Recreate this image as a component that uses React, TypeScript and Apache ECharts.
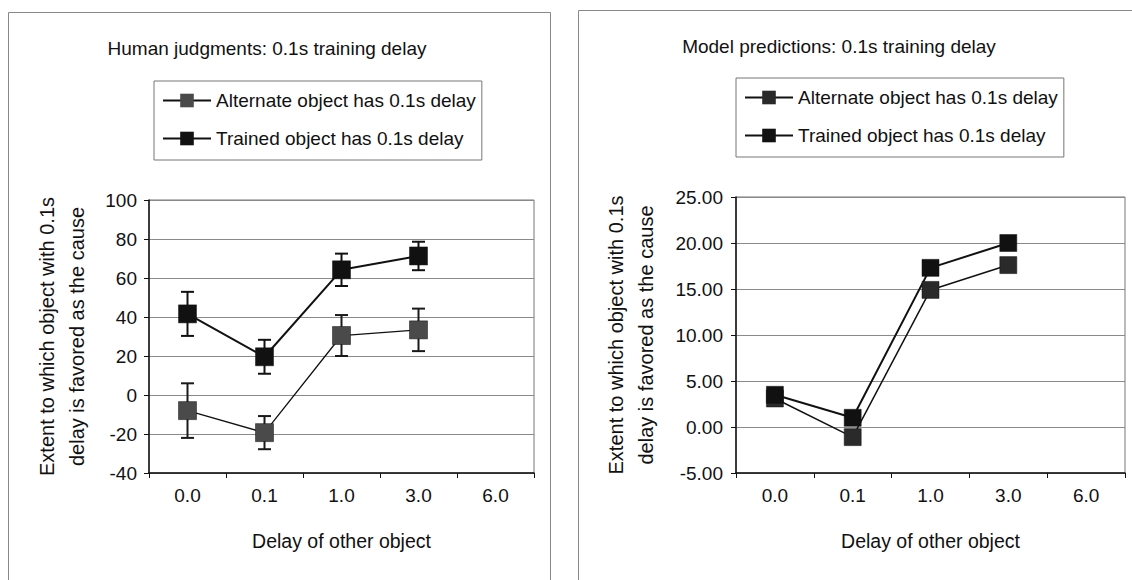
import React, { useEffect, useRef } from "react";
import * as echarts from "echarts";

// Delay of the other object (x categories)
const categories = ["0.0", "0.1", "1.0", "3.0", "6.0"];

// Human judgments: means and error half-widths
const humanAlternate = [-8, -19.3, 30.5, 33.4, null];
const humanAlternateErr = [14, 8.5, 10.5, 10.9, null];
const humanTrained = [41.6, 19.6, 64.2, 71.3, null];
const humanTrainedErr = [11.3, 8.7, 8.3, 7.3, null];

// Model predictions
const modelAlternate = [3.1, -1.1, 14.9, 17.6, null];
const modelTrained = [3.5, 1.0, 17.3, 20.0, null];

const humanTicks = { min: -40, max: 100, interval: 20 };
const modelTicks = { min: -5, max: 25, interval: 5 };

const ALT_NAME = "Alternate object has 0.1s delay";
const TRAINED_NAME = "Trained object has 0.1s delay";
const Y_NAME = "Extent to which object with 0.1s\ndelay is favored as the cause";
const X_NAME = "Delay of other object";
const FONT = 'Arial, "Liberation Sans", Helvetica, sans-serif';

const ALT_COLOR = "#4a4a4a";
const TRAINED_COLOR = "#111111";

function errorData(means: (number | null)[], errs: (number | null)[]) {
  const out: number[][] = [];
  means.forEach((m, i) => {
    const e = errs[i];
    if (m != null && e != null) out.push([i, m - e, m + e]);
  });
  return out;
}

function errorSeries(name: string, data: number[][], color: string) {
  return {
    type: "custom",
    name: name + " error",
    xAxisIndex: 0,
    yAxisIndex: 0,
    z: 2,
    silent: true,
    encode: { x: 0, y: [1, 2] },
    data,
    renderItem: (_params: any, api: any) => {
      const x = api.value(0);
      const lo = api.coord([x, api.value(1)]);
      const hi = api.coord([x, api.value(2)]);
      const cap = 6.5;
      const style = { stroke: color, lineWidth: 2 };
      return {
        type: "group",
        children: [
          { type: "line", shape: { x1: lo[0], y1: lo[1], x2: hi[0], y2: hi[1] }, style },
          { type: "line", shape: { x1: lo[0] - cap, y1: lo[1], x2: lo[0] + cap, y2: lo[1] }, style },
          { type: "line", shape: { x1: hi[0] - cap, y1: hi[1], x2: hi[0] + cap, y2: hi[1] }, style },
        ],
      };
    },
  };
}

function lineSeries(
  name: string,
  data: (number | null)[],
  idx: number,
  color: string,
  width: number,
  size: number
) {
  return {
    type: "line",
    name,
    xAxisIndex: idx,
    yAxisIndex: idx,
    data,
    z: 3,
    symbol: "rect",
    symbolSize: size,
    showSymbol: true,
    lineStyle: { color: "#111", width },
    itemStyle: { color, borderColor: "#111", borderWidth: 0.5 },
    emphasis: { disabled: true },
  };
}

function xAxis(gridIndex: number) {
  return {
    type: "category",
    gridIndex,
    data: categories,
    boundaryGap: true,
    axisLine: { onZero: false, lineStyle: { color: "#111", width: 1.5 } },
    axisTick: { show: true, length: 5, inside: false, lineStyle: { color: "#111" } },
    axisLabel: { color: "#111", fontSize: 19, fontFamily: FONT, margin: 13 },
    name: X_NAME,
    nameLocation: "middle",
    nameGap: 58,
    nameTextStyle: { color: "#111", fontSize: 19.5, fontFamily: FONT },
    splitLine: { show: false },
  };
}

function yAxis(
  gridIndex: number,
  ticks: { min: number; max: number; interval: number },
  digits: number,
  nameGap: number,
  labelMargin: number
) {
  return {
    type: "value",
    gridIndex,
    min: ticks.min,
    max: ticks.max,
    interval: ticks.interval,
    axisLine: { show: true, onZero: false, lineStyle: { color: "#111", width: 1.5 } },
    axisTick: { show: true, length: 5, inside: false, lineStyle: { color: "#111" } },
    axisLabel: {
      color: "#111",
      fontSize: 19,
      fontFamily: FONT,
      margin: labelMargin,
      formatter: (v: number) => v.toFixed(digits),
    },
    splitLine: { show: true, lineStyle: { color: "#8a8a8a", width: 1 } },
    name: Y_NAME,
    nameLocation: "middle",
    nameRotate: 90,
    nameGap,
    nameTextStyle: { color: "#111", fontSize: 20, fontFamily: FONT, lineHeight: 30, align: "center" },
  };
}

function legend(left: number, top: number, altColor: string) {
  return {
    left,
    top,
    orient: "vertical",
    itemWidth: 48,
    itemHeight: 17,
    itemGap: 19,
    itemStyle: { borderWidth: 0 },
    padding: [10, 6, 12, 8],
    borderColor: "#777",
    borderWidth: 1,
    selectedMode: false,
    textStyle: { color: "#111", fontSize: 19, fontFamily: FONT },
    data: [
      { name: ALT_NAME, itemStyle: { color: altColor } },
      { name: TRAINED_NAME, itemStyle: { color: TRAINED_COLOR } },
    ],
  };
}

export default function App() {
  const ref = useRef<HTMLDivElement>(null);

  useEffect(() => {
    if (!ref.current) return;
    const chart = echarts.init(ref.current, undefined, { renderer: "svg" });

    const option = {
      animation: false,
      backgroundColor: "#ffffff",
      textStyle: { fontFamily: FONT },
      title: [
        {
          text: "Human judgments: 0.1s training delay",
          left: 262,
          top: 34,
          textAlign: "center",
          textStyle: { color: "#111", fontSize: 19, fontWeight: "normal", fontFamily: FONT },
        },
        {
          text: "Model predictions: 0.1s training delay",
          left: 834,
          top: 32,
          textAlign: "center",
          textStyle: { color: "#111", fontSize: 19, fontWeight: "normal", fontFamily: FONT },
        },
      ],
      legend: [legend(154, 81, ALT_COLOR), legend(736, 78, "#2a2a2a")],
      graphic: [
        {
          type: "rect",
          shape: { x: 8.5, y: 12.5, width: 542, height: 600 },
          style: { fill: "none", stroke: "#888", lineWidth: 1 },
          silent: true,
        },
        {
          type: "rect",
          shape: { x: 578.5, y: 10.5, width: 600, height: 600 },
          style: { fill: "none", stroke: "#888", lineWidth: 1 },
          silent: true,
        },
      ],
      grid: [
        { left: 149, top: 200, width: 385, height: 273, show: true, borderColor: "#777", borderWidth: 1 },
        { left: 736, top: 197, width: 389, height: 276, show: true, borderColor: "#777", borderWidth: 1 },
      ],
      xAxis: [xAxis(0), xAxis(1)],
      yAxis: [yAxis(0, humanTicks, 0, 57, 12), yAxis(1, modelTicks, 2, 75, 13)],
      series: [
        errorSeries(ALT_NAME, errorData(humanAlternate, humanAlternateErr), "#1a1a1a"),
        errorSeries(TRAINED_NAME, errorData(humanTrained, humanTrainedErr), "#111"),
        lineSeries(ALT_NAME, humanAlternate, 0, ALT_COLOR, 1.3, 18),
        lineSeries(TRAINED_NAME, humanTrained, 0, TRAINED_COLOR, 2, 18),
        lineSeries(ALT_NAME, modelAlternate, 1, "#2a2a2a", 1.5, 17),
        lineSeries(TRAINED_NAME, modelTrained, 1, TRAINED_COLOR, 2, 17),
      ],
    };

    chart.setOption(option as any);
    return () => chart.dispose();
  }, []);

  return (
    <div
      ref={ref}
      style={{ position: "fixed", left: 0, top: 0, width: 1132, height: 580, background: "#fff" }}
    />
  );
}
